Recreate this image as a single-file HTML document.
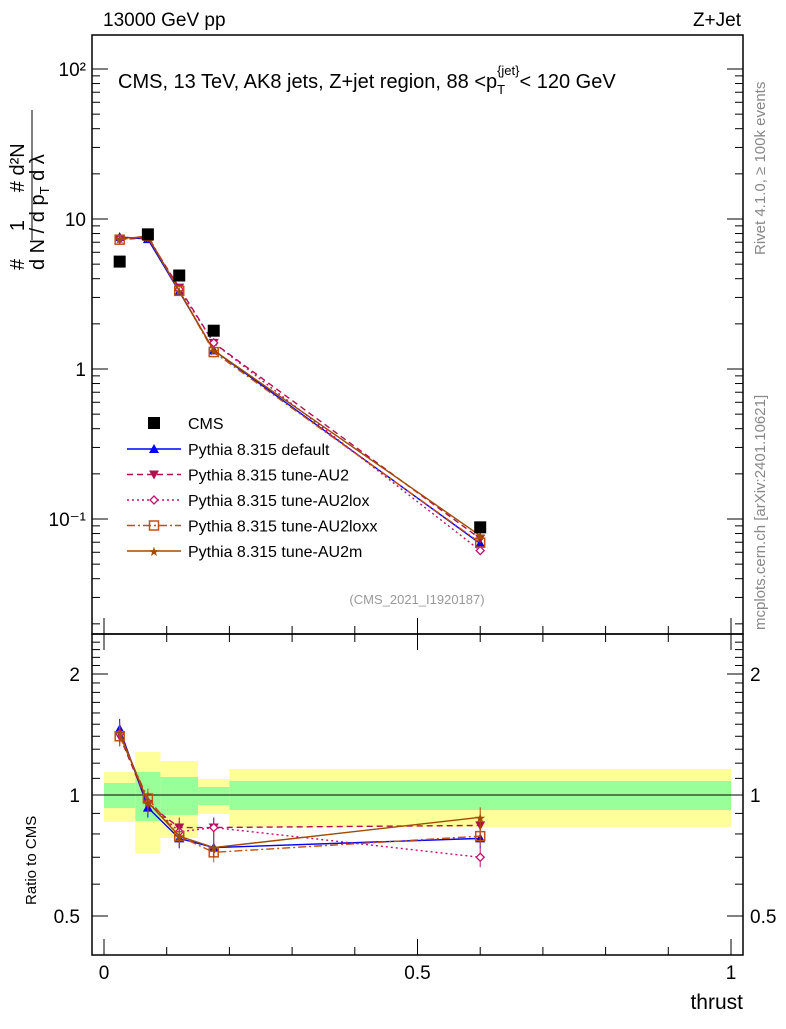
<!DOCTYPE html>
<html><head><meta charset="utf-8"><style>
body{margin:0;background:#fff;font-family:"Liberation Sans",sans-serif}
svg text{font-family:"Liberation Sans",sans-serif}
</style></head><body>
<svg id="c" width="786" height="1024" xmlns="http://www.w3.org/2000/svg">
<g id="bands"></g>
<rect x="92" y="35" width="651" height="599" fill="none" stroke="#000" stroke-width="1.5"/>
<rect x="92" y="634" width="651" height="321" fill="none" stroke="#000" stroke-width="1.5"/>
<g id="ticks"></g>
<g id="series"></g>
<text x="103" y="26" font-size="19">13000 GeV pp</text>
<text x="741" y="26" font-size="19" text-anchor="end">Z+Jet</text>
<text x="118" y="88" font-size="20">CMS, 13 TeV, AK8 jets, Z+jet region, 88 &lt;p<tspan font-size="13" dy="6">T</tspan><tspan font-size="13" dy="-19" dx="-8">{jet}</tspan><tspan dy="13">&lt; 120 GeV</tspan></text>
<text x="417" y="604" font-size="13" fill="#999" text-anchor="middle">(CMS_2021_I1920187)</text>
<text transform="translate(765,255) rotate(-90)" font-size="15" fill="#888">Rivet 4.1.0, ≥ 100k events</text>
<text transform="translate(765,630) rotate(-90)" font-size="15" fill="#888">mcplots.cern.ch [arXiv:2401.10621]</text>
<text transform="translate(44,270) rotate(-90)" font-size="20">d N / d p<tspan font-size="13" dy="5">T</tspan><tspan dy="-5"> d λ</tspan></text>
<text transform="translate(24,270) rotate(-90)" font-size="20"># &#160;&#160;&#160;&#160;1 &#160;&#160;&#160;&#160;# d²N</text>
<line x1="32" y1="240" x2="32" y2="110" stroke="#000"/>
<text transform="translate(36,905) rotate(-90)" font-size="15">Ratio to CMS</text>
<text x="743" y="1009" font-size="21" text-anchor="end">thrust</text>
<g id="legend"></g>
</svg>
<script>
const binLo=[0,0.05,0.09,0.15,0.2];
const binHi=[0.05,0.09,0.15,0.2,1.0];
const xc=[0.025,0.07,0.12,0.175,0.6];
const cms=[5.2,7.9,4.2,1.8,0.088];
const yelHi=[1.141,1.279,1.215,1.096,1.161];
const yelLo=[0.857,0.717,0.782,0.897,0.833];
const grnHi=[1.071,1.141,1.109,1.047,1.084];
const grnLo=[0.928,0.862,0.892,0.944,0.918];
const rDefault=[1.46,0.93,0.78,0.74,0.78];
const rAU2=[1.40,0.95,0.83,0.83,0.84];
const rAU2lox=[1.42,0.96,0.81,0.83,0.70];
const rAU2loxx=[1.40,0.98,0.79,0.72,0.79];
const rAU2m=[1.43,0.96,0.79,0.74,0.88];
const names=["Pythia 8.315 default","Pythia 8.315 tune-AU2","Pythia 8.315 tune-AU2lox","Pythia 8.315 tune-AU2loxx","Pythia 8.315 tune-AU2m"];
const NS="http://www.w3.org/2000/svg";
const X=v=>104+v*627;
const Y=v=>369-150*Math.log10(v);
const R=v=>795-121*Math.log2(v);
function mk(t,a,p){const e=document.createElementNS(NS,t);for(const k in a)e.setAttribute(k,a[k]);p.appendChild(e);return e;}
const bands=document.getElementById('bands');
for(let i=0;i<binLo.length;i++){
 let e=mk('rect',{x:X(binLo[i]),y:R(yelHi[i]),width:X(binHi[i])-X(binLo[i]),height:R(yelLo[i])-R(yelHi[i]),fill:'#ffff99'},bands);
 
 
 e=mk('rect',{x:X(binLo[i]),y:R(grnHi[i]),width:X(binHi[i])-X(binLo[i]),height:R(grnLo[i])-R(grnHi[i]),fill:'#99ff99'},bands);
 
 
}
let l=mk('line',{x1:92,x2:743,y1:R(1),y2:R(1),stroke:'#000'},bands);


const tk=document.getElementById('ticks');
function tick(x1,y1,x2,y2){mk('line',{x1,y1,x2,y2,stroke:'#000','stroke-width':1},tk);}
for(let d=-2;d<=2;d++)for(let m=1;m<10;m++){const v=m*Math.pow(10,d);const y=Y(v);if(y<36||y>633)continue;const L=m==1?16:8;tick(92,y,92+L,y);tick(743,y,743-L,y);}
for(let v=0;v<=1.001;v+=0.1){const x=X(v);const L=(Math.abs(v-0.5)<1e-6||v<1e-6||v>0.99)?16:8;tick(x,955,x,955-L);tick(x,634,x,634+L);tick(x,634,x,634-L);}
[[100,"10²"],[10,"10"],[1,"1"],[0.1,"10⁻¹"]].forEach(([v,s])=>{const t=mk('text',{x:86,y:Y(v)+7,'font-size':19,'text-anchor':'end'},tk);t.textContent=s;
 
 });
for(let v=0.4;v<=2.5;v+=0.1){const y=R(v);if(y<635||y>954)continue;const maj=[0.5,1,2].some(q=>Math.abs(q-v)<1e-6);const L=maj?16:8;tick(92,y,92+L,y);tick(743,y,743-L,y);}
[[2,"2"],[1,"1"],[0.5,"0.5"]].forEach(([v,s])=>{let t=mk('text',{x:80,y:R(v)+7,'font-size':19,'text-anchor':'end'},tk);t.textContent=s;
 
 
 t=mk('text',{x:750,y:R(v)+7,'font-size':19},tk);t.textContent=s;
 
 });
[[0,"0"],[0.5,"0.5"],[1,"1"]].forEach(([v,s])=>{const t=mk('text',{x:X(v),y:979,'font-size':19,'text-anchor':'middle'},tk);t.textContent=s;
 
 });
const ser=document.getElementById('series');
const styles=[
 {r:rDefault,c:'#0000ff',d:'',m:'tri'},
 {r:rAU2,c:'#b01050',d:'6,4',m:'tridown'},
 {r:rAU2lox,c:'#c01070',d:'2,3',m:'diam'},
 {r:rAU2loxx,c:'#c05010',d:'8,3,2,3',m:'sq'},
 {r:rAU2m,c:'#a04c00',d:'',m:'star'}];
function marker(m,x,y,c,p){
 if(m=='tri')return mk('polygon',{points:`${x},${y-5} ${x-5},${y+4} ${x+5},${y+4}`,fill:c},p);
 if(m=='tridown')return mk('polygon',{points:`${x},${y+5} ${x-5},${y-4} ${x+5},${y-4}`,fill:c},p);
 if(m=='diam')return mk('polygon',{points:`${x},${y-4} ${x+4},${y} ${x},${y+4} ${x-4},${y}`,fill:'#fff',stroke:c,'stroke-width':1.3},p);
 if(m=='sq')return mk('rect',{x:x-4.5,y:y-4.5,width:9,height:9,fill:'none',stroke:c,'stroke-width':1.5},p);
 return mk('text',{x:x,y:y+5,'font-size':13,fill:c,'text-anchor':'middle'},p);
}
styles.forEach((s,k)=>{
 const g=mk('g',{},ser);
 
 
 const pm=xc.map((x,i)=>`${X(x)},${Y(cms[i]*s.r[i])}`).join(' ');
 const pr=xc.map((x,i)=>`${X(x)},${R(s.r[i])}`).join(' ');
 let e=mk('polyline',{points:pm,fill:'none',stroke:s.c,'stroke-width':1.4,'stroke-dasharray':s.d},g);
 
 
 e=mk('polyline',{points:pr,fill:'none',stroke:s.c,'stroke-width':1.4,'stroke-dasharray':s.d},g);
 
 
 xc.forEach((x,i)=>{
  const yv=R(s.r[i]);
  mk('line',{x1:X(x),x2:X(x),y1:yv-10,y2:yv+10,stroke:s.c,'stroke-width':1},g);
  let m=marker(s.m,X(x),Y(cms[i]*s.r[i]),s.c,g);if(s.m=='star')m.textContent='★';
  
  
  m=marker(s.m,X(x),yv,s.c,g);if(s.m=='star')m.textContent='★';
  
  
 });
});
xc.forEach((x,i)=>{const e=mk('rect',{x:X(x)-6,y:Y(cms[i])-6,width:12,height:12,fill:'#000'},ser);
 
 });
const lg=document.getElementById('legend');
let e=mk('rect',{x:148,y:417,width:12,height:12,fill:'#000'},lg);


let t=mk('text',{x:188,y:429,'font-size':16},lg);t.textContent='CMS';


styles.forEach((s,k)=>{const y=449+k*25.5;
 mk('line',{x1:127,x2:181,y1:y,y2:y,stroke:s.c,'stroke-width':1.4,'stroke-dasharray':s.d},lg);
 const m=marker(s.m,154,y,s.c,lg);if(s.m=='star')m.textContent='★';
 const tt=mk('text',{x:188,y:y+6,'font-size':16},lg);tt.textContent=names[k];
 
 });
</script>
</body></html>
